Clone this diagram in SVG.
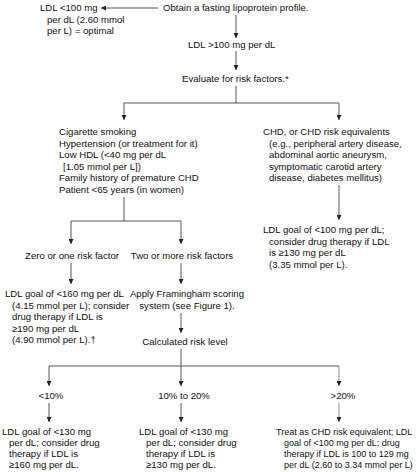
<svg xmlns="http://www.w3.org/2000/svg" width="418" height="472" viewBox="0 0 418 472">
<defs>
<marker id="ah" viewBox="0 0 6 6" refX="6" refY="3" markerWidth="6" markerHeight="5" markerUnits="userSpaceOnUse" orient="auto">
<path d="M0,0 L6,3 L0,6 z" fill="#222"/>
</marker>
<style>
text{font-family:"Liberation Sans",Arial,sans-serif;font-size:9.6px;fill:#111}
.s{font-size:9px}
.c{stroke:#444;stroke-width:0.9;fill:none}
.a{stroke:#444;stroke-width:0.9;fill:none;marker-end:url(#ah)}
.g{stroke:#999;stroke-width:1.1}
</style>
</defs>
<rect width="418" height="472" fill="#fff"/>
<g id="connectors">
<line class="a" x1="158" y1="8" x2="101" y2="8"/>
<line class="a" x1="236" y1="15" x2="236" y2="38"/>
<line class="a" x1="236" y1="51" x2="236" y2="70"/>
<polyline class="c" points="236,86 236,103"/>
<polyline class="c" points="124,103 339,103"/>
<line class="a" x1="124" y1="103" x2="124" y2="120"/>
<line class="a" x1="339" y1="103" x2="339" y2="120"/>
<polyline class="c" points="124,197 124,221"/>
<polyline class="c" points="71,221 181,221"/>
<line class="a" x1="71" y1="221" x2="71" y2="244"/>
<line class="a" x1="181" y1="221" x2="181" y2="244"/>
<line class="a" x1="339" y1="185" x2="339" y2="220"/>
<line class="a" x1="71" y1="263" x2="71" y2="284"/>
<line class="a" x1="181" y1="263" x2="181" y2="284"/>
<line class="a" x1="181" y1="313" x2="181" y2="333"/>
<polyline class="c" points="181,349 181,366"/>
<polyline class="c" points="49,366 339,366"/>
<line class="a" x1="49" y1="366" x2="49" y2="386"/>
<line class="a" x1="181" y1="366" x2="181" y2="386"/>
<line class="a g" x1="339" y1="366" x2="339" y2="386"/>
<line class="a" x1="49" y1="403" x2="49" y2="422"/>
<line class="a" x1="181" y1="403" x2="181" y2="422"/>
<line class="a g" x1="339" y1="403" x2="339" y2="422"/>
</g>
<g id="start"><text x="163" y="11.4">Obtain a fasting lipoprotein profile.</text></g>
<g id="optimal"><text x="40" y="11.4">LDL &lt;100 mg</text><text x="47" y="22.9">per dL (2.60 mmol</text><text x="47" y="34.4">per L) = optimal</text></g>
<g id="ldl100"><text x="188" y="48.4">LDL &gt;100 mg per dL</text></g>
<g id="evaluate"><text x="182" y="82.4">Evaluate for risk factors.*</text></g>
<g id="riskfactors"><text x="59" y="135.4">Cigarette smoking</text><text x="59" y="146.9">Hypertension (or treatment for it)</text><text x="59" y="158.4">Low HDL (&lt;40 mg per dL</text><text x="63" y="169.9">[1.05 mmol per L])</text><text x="59" y="181.4">Family history of premature CHD</text><text x="59" y="192.9">Patient &lt;65 years (in women)</text></g>
<g id="chd"><text x="263" y="135.4">CHD, or CHD risk equivalents</text><text x="269" y="146.9">(e.g., peripheral artery disease,</text><text x="269" y="158.4">abdominal aortic aneurysm,</text><text x="269" y="169.9">symptomatic carotid artery</text><text x="269" y="181.4">disease, diabetes mellitus)</text></g>
<g id="chdgoal"><text x="263" y="233.4">LDL goal of &lt;100 mg per dL;</text><text x="269" y="244.9">consider drug therapy if LDL</text><text x="269" y="256.4">is ≥130 mg per dL</text><text x="269" y="267.9">(3.35 mmol per L).</text></g>
<g id="zero"><text x="72" y="259.4" text-anchor="middle">Zero or one risk factor</text></g>
<g id="two"><text x="182" y="259.4" text-anchor="middle">Two or more risk factors</text></g>
<g id="goal160"><text x="5" y="297.4">LDL goal of &lt;160 mg per dL</text><text x="12" y="308.9">(4.15 mmol per L); consider</text><text x="12" y="320.4">drug therapy if LDL is</text><text x="12" y="331.9">≥190 mg per dL</text><text x="12" y="343.4">(4.90 mmol per L).†</text></g>
<g id="framingham"><text x="187" y="297.4" text-anchor="middle">Apply Framingham scoring</text><text x="187" y="308.9" text-anchor="middle">system (see Figure 1).</text></g>
<g id="calc"><text x="185" y="345.4" text-anchor="middle">Calculated risk level</text></g>
<g id="lt10"><text x="51" y="399.4" text-anchor="middle">&lt;10%</text></g>
<g id="mid"><text x="184" y="399.4" text-anchor="middle">10% to 20%</text></g>
<g id="gt20"><text x="343" y="399.4" text-anchor="middle">&gt;20%</text></g>
<g id="goal130a"><text x="2" y="435.4">LDL goal of &lt;130 mg</text><text x="9" y="446.4">per dL; consider drug</text><text x="9" y="457.4">therapy if LDL is</text><text x="9" y="468.4">≥160 mg per dL.</text></g>
<g id="goal130b"><text x="139" y="435.4">LDL goal of &lt;130 mg</text><text x="146" y="446.4">per dL; consider drug</text><text x="146" y="457.4">therapy if LDL is</text><text x="146" y="468.4">≥130 mg per dL.</text></g>
<g id="chdeq"><text class="s" x="276" y="435.4">Treat as CHD risk equivalent; LDL</text><text class="s" x="284" y="446.4">goal of &lt;100 mg per dL; drug</text><text class="s" x="284" y="457.4">therapy if LDL is 100 to 129 mg</text><text class="s" x="284" y="468.4">per dL (2.60 to 3.34 mmol per L)</text></g>
</svg>
